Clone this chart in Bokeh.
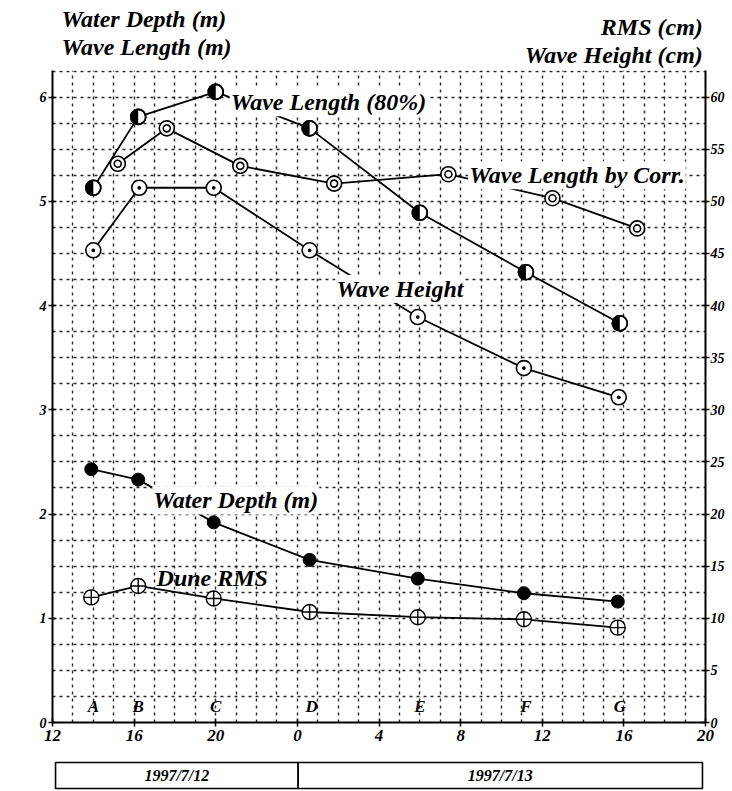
import math
import numpy as np
from bokeh.plotting import figure
from bokeh.models import Range1d, LinearAxis, FixedTicker, Label, ColumnDataSource
from bokeh.layouts import column
from bokeh.embed import file_html
from bokeh.resources import INLINE
from bokeh.core.properties import value

# ---------------- data (hours since 1997/7/12 00:00) ----------------
station_hours = [14.0, 16.2, 20.0, 24.7, 30.0, 35.2, 39.8]
station_labels = ["A", "B", "C", "D", "E", "F", "G"]

depth_hours = [13.9, 16.2, 19.9, 24.6, 29.9, 35.1, 39.7]
water_depth_m = [2.43, 2.33, 1.92, 1.56, 1.38, 1.24, 1.16]

rms_hours = [13.9, 16.2, 19.9, 24.6, 29.9, 35.1, 39.7]
dune_rms_cm = [12.0, 13.1, 11.9, 10.6, 10.1, 9.9, 9.1]

wh_hours = [14.0, 16.25, 19.9, 24.6, 29.9, 35.1, 39.75]
wave_height_cm = [45.3, 51.3, 51.3, 45.3, 38.9, 34.0, 31.2]

wl80_hours = [14.0, 16.2, 20.0, 24.6, 30.0, 35.2, 39.8]
wave_length80_m = [5.13, 5.81, 6.05, 5.70, 4.89, 4.32, 3.83]

wlc_hours = [15.2, 17.6, 21.2, 25.8, 31.4, 36.5, 40.65]
wave_length_corr_m = [5.36, 5.70, 5.34, 5.17, 5.26, 5.03, 4.74]

hour_ticks = [12, 16, 20, 24, 28, 32, 36, 40, 44]
hour_tick_labels = ["12", "16", "20", "0", "4", "8", "12", "16", "20"]
m_ticks = [0, 1, 2, 3, 4, 5, 6]
cm_ticks = [0, 5, 10, 15, 20, 25, 30, 35, 40, 45, 50, 55, 60]

date_starts = [12, 24]
date_ends = [24, 44]
date_labels = ["1997/7/12", "1997/7/13"]

left_titles = ["Water Depth (m)", "Wave Length (m)"]
right_titles = ["RMS (cm)", "Wave Height (cm)"]

FONT = "Liberation Serif"

# ---------------- title strip ----------------
t = figure(width=732, height=70, x_range=Range1d(0, 732), y_range=Range1d(70, 0),
           output_backend="svg", toolbar_location=None,
           min_border_left=0, min_border_right=0, min_border_top=0, min_border_bottom=0)
t.axis.visible = False
t.grid.visible = False
t.outline_line_color = None
lt_src = ColumnDataSource(dict(x=[10, 10], y=[18, 46], t=left_titles))
t.text(x="x", y="y", text="t", source=lt_src, text_font=value(FONT),
       text_font_style="bold italic", text_font_size="24px", text_align="left",
       text_baseline="middle", text_color="black")
rt_src = ColumnDataSource(dict(x=[729, 729], y=[26, 54], t=right_titles))
t.text(x="x", y="y", text="t", source=rt_src, text_font=value(FONT),
       text_font_style="bold italic", text_font_size="24px", text_align="right",
       text_baseline="middle", text_color="black")

# ---------------- main figure ----------------
p = figure(width=732, height=681, x_range=Range1d(12, 44), y_range=Range1d(0, 6.255),
           output_backend="svg", toolbar_location=None,
           min_border_left=52, min_border_right=27, min_border_top=0, min_border_bottom=29)
p.extra_y_ranges = {"cm": Range1d(0, 62.55)}
p.outline_line_color = None
p.background_fill_color = "white"

# grid: dotted every hour and every 0.25 m
p.xgrid.ticker = FixedTicker(ticks=list(np.arange(13, 44)))
p.ygrid.ticker = FixedTicker(ticks=list(np.arange(0.25, 6.26, 0.25)))
for g in (p.xgrid, p.ygrid):
    g.grid_line_color = "#111111"
    g.grid_line_dash = "3 4"
    g.grid_line_width = 1.4
    g.grid_line_alpha = 0.9

def style_axis(ax, size="14px"):
    ax.axis_line_color = "black"
    ax.axis_line_width = 2
    ax.major_tick_line_color = "black"
    ax.major_tick_line_width = 1.5
    ax.major_tick_in = 4
    ax.major_tick_out = 4
    ax.minor_tick_line_color = None
    ax.major_label_text_font = FONT
    ax.major_label_text_font_style = "bold italic"
    ax.major_label_text_font_size = size
    ax.major_label_text_color = "black"

p.xaxis.ticker = FixedTicker(ticks=hour_ticks)
p.xaxis.major_label_overrides = {tk: lb for tk, lb in zip(hour_ticks, hour_tick_labels)}
style_axis(p.xaxis[0], "17px")
p.xaxis.major_label_standoff = 3

p.yaxis.ticker = FixedTicker(ticks=m_ticks)
style_axis(p.yaxis[0])
p.yaxis.major_label_standoff = 2

ra = LinearAxis(y_range_name="cm", ticker=FixedTicker(ticks=cm_ticks))
style_axis(ra)
ra.major_label_standoff = 1
p.add_layout(ra, "right")

LW = 1.8
p.line(wl80_hours, wave_length80_m, line_color="black", line_width=LW)
p.line(wlc_hours, wave_length_corr_m, line_color="black", line_width=LW)
p.line(wh_hours, wave_height_cm, line_color="black", line_width=LW, y_range_name="cm")
p.line(depth_hours, water_depth_m, line_color="black", line_width=LW)
p.line(rms_hours, dune_rms_cm, line_color="black", line_width=LW, y_range_name="cm")

# markers
p.scatter(wl80_hours, wave_length80_m, marker="circle", size=15, fill_color="white",
          line_color="black", line_width=1.6)
p.wedge(wl80_hours, wave_length80_m, radius=7, radius_units="screen",
        start_angle=math.pi / 2, end_angle=3 * math.pi / 2, fill_color="black", line_color=None)
p.scatter(wl80_hours, wave_length80_m, marker="circle", size=15, fill_color=None,
          line_color="black", line_width=1.6)

p.scatter(wlc_hours, wave_length_corr_m, marker="circle", size=15, fill_color="white",
          line_color="black", line_width=1.6)
p.scatter(wlc_hours, wave_length_corr_m, marker="circle", size=7, fill_color="white",
          line_color="black", line_width=1.6)

p.scatter(wh_hours, wave_height_cm, marker="circle_dot", size=15, fill_color="white",
          line_color="black", line_width=1.6, y_range_name="cm")

p.scatter(depth_hours, water_depth_m, marker="circle", size=13, fill_color="black",
          line_color="black")

p.scatter(rms_hours, dune_rms_cm, marker="circle_cross", size=15, fill_color="white",
          line_color="black", line_width=1.4, y_range_name="cm")

# station letters
st_src = ColumnDataSource(dict(x=station_hours, y=[0.15] * len(station_hours), t=station_labels))
p.text(x="x", y="y", text="t", source=st_src, text_font=value(FONT),
       text_font_style="bold italic", text_font_size="17px", text_align="center",
       text_baseline="middle", text_color="black")

# in-plot series labels
def add_label(x, y, txt, bg=True, align="left", size="24px"):
    kw = dict(x=x, y=y, text=txt, text_font=FONT, text_font_style="bold italic",
              text_font_size=size, text_align=align, text_baseline="middle",
              text_color="black")
    if bg:
        kw.update(background_fill_color="white", padding=1)
    p.add_layout(Label(**kw))

add_label(20.68, 5.95, "Wave Length (80%)")
add_label(32.37, 5.25, "Wave Length by Corr.")
add_label(25.87, 4.16, "Wave Height")
add_label(16.89, 2.13, "Water Depth (m)")
add_label(17.1, 1.39, "Dune RMS", bg=False)

# ---------------- date strip ----------------
d = figure(width=732, height=40, x_range=Range1d(11.85, 44.15), y_range=Range1d(0, 1),
           output_backend="svg", toolbar_location=None,
           min_border_left=49, min_border_right=24, min_border_top=0, min_border_bottom=0)
d.axis.visible = False
d.grid.visible = False
d.outline_line_color = None
d.quad(left=date_starts, right=date_ends, bottom=0.075, top=0.725,
       fill_color="white", line_color="black", line_width=1.6)
d_src = ColumnDataSource(dict(x=[(s + e) / 2 for s, e in zip(date_starts, date_ends)],
                              y=[0.40] * len(date_labels), t=date_labels))
d.text(x="x", y="y", text="t", source=d_src, text_font=value(FONT),
       text_font_style="bold italic", text_font_size="16px", text_align="center",
       text_baseline="middle", text_color="black")

layout = column(t, p, d, spacing=0)
open("out.html", "w").write(file_html(layout, INLINE))
